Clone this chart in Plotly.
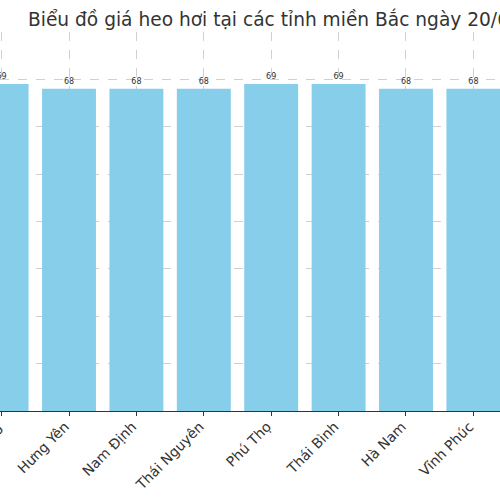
import plotly.graph_objects as go

# giá heo hơi (nghìn đồng/kg)
provinces = ["Bắc Giang", "Hưng Yên", "Nam Định", "Thái Nguyên", "Phú Thọ",
             "Thái Bình", "Hà Nam", "Vĩnh Phúc", "Hà Nội"]
prices = [69, 68, 68, 68, 69, 69, 68, 68, 68]

title_text = "Biểu đồ giá heo hơi tại các tỉnh miền Bắc ngày 20/6/2024"

fig = go.Figure()
fig.add_trace(go.Bar(
    x=provinces,
    y=prices,
    marker=dict(color="skyblue", line=dict(width=0)),
    text=[str(p) for p in prices],
    textposition="outside",
    textfont=dict(size=8, color="#333333"),
    cliponaxis=False,
))

fig.update_layout(
    width=500, height=500,
    margin=dict(l=0, r=0, t=32, b=89),
    paper_bgcolor="white",
    plot_bgcolor="white",
    font=dict(family="DejaVu Sans", color="#333333"),
    bargap=0.2,
    showlegend=False,
    title=dict(text=title_text, x=28 / 500, xanchor="left", xref="container",
               y=1 - 19 / 500, yanchor="middle", yref="container",
               font=dict(size=18.6, color="#333333")),
)

fig.update_xaxes(
    range=[-0.024, 7.395],
    automargin=False,
    tickangle=-45,
    tickfont=dict(size=14, color="#333333"),
    ticks="outside", ticklen=4, tickcolor="#333333",
    ticklabelshift=-4, ticklabelstandoff=-3,
    showline=True, linecolor="#333333", linewidth=1,
    showgrid=True, gridcolor="#d0d0d0", griddash="dash", gridwidth=1,
)
fig.update_yaxes(
    range=[0, 80],
    dtick=10,
    automargin=False,
    showticklabels=False,
    showgrid=True, gridcolor="#d0d0d0", griddash="dash", gridwidth=1,
    zeroline=False,
)

# the page body has a default 8px margin; drop it so the chart sits at 0,0
fig.write_html("out.html", config={"displayModeBar": False},
               post_script="document.body.style.margin='0';")
